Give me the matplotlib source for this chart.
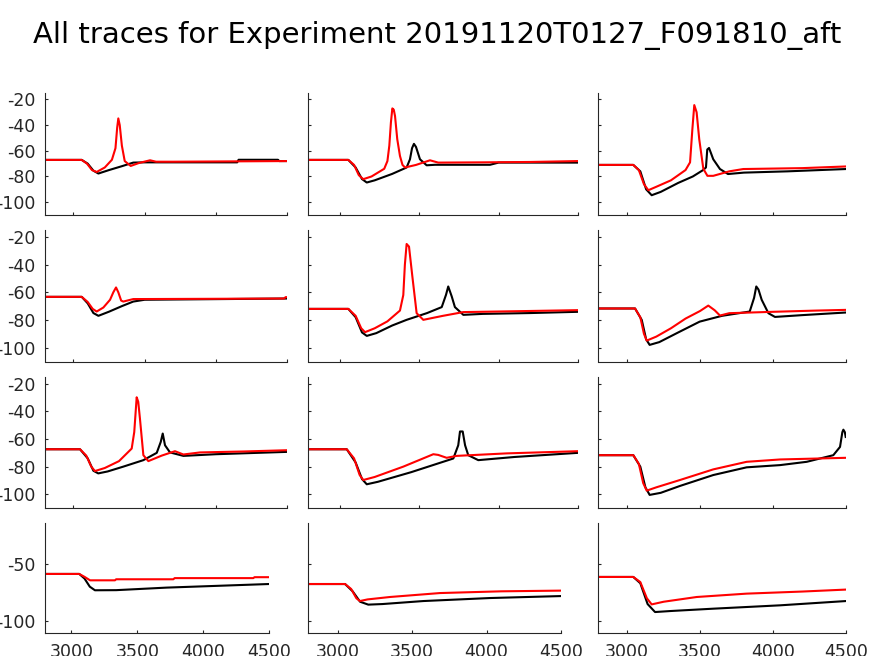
import matplotlib
matplotlib.use("Agg")
import matplotlib.pyplot as plt

matplotlib.rcParams['axes.unicode_minus'] = False  # plain hyphen like the original

title = "All traces for Experiment 20191120T0127_F091810_aft"

# one entry per panel, row by row (4 rows x 3 columns)
black_x = [
    [2800, 3058, 3100, 3140, 3175, 3250, 3340, 3420, 3500, 4040, 4150, 4160, 4437, 4445, 4500],
    [2800, 3054, 3100, 3140, 3170, 3220, 3330, 3421, 3442, 3455, 3467, 3480, 3505, 3547, 3600, 3946, 4000, 4500],
    [2800, 3042, 3090, 3130, 3168, 3230, 3350, 3450, 3522, 3540, 3549, 3561, 3575, 3590, 3636, 3691, 3800, 4100, 4500],
    [2800, 3058, 3100, 3140, 3175, 3250, 3340, 3420, 3500, 4500],
    [2800, 3054, 3100, 3140, 3170, 3230, 3330, 3421, 3550, 3642, 3669, 3683, 3705, 3725, 3778, 3900, 4200, 4500],
    [2800, 3054, 3100, 3130, 3154, 3220, 3350, 3497, 3650, 3840, 3870, 3885, 3900, 3922, 3968, 4013, 4200, 4500],
    [2800, 3046, 3100, 3140, 3174, 3240, 3350, 3491, 3585, 3613, 3627, 3643, 3678, 3772, 4000, 4500],
    [2800, 3044, 3100, 3140, 3170, 3240, 3450, 3715, 3746, 3757, 3774, 3789, 3809, 3872, 4100, 4500],
    [2800, 3042, 3090, 3125, 3154, 3230, 3362, 3590, 3819, 4048, 4231, 4413, 4459, 4475, 4482, 4492, 4498],
    [2800, 3060, 3100, 3140, 3179, 3340, 3723, 4100, 4500],
    [2800, 3049, 3100, 3150, 3205, 3300, 3575, 4023, 4500],
    [2800, 3042, 3090, 3140, 3191, 3300, 3590, 4048, 4500],
]
black_y = [
    [-67.1, -67.1, -70, -75.5, -77.7, -75, -72, -69.2, -69, -69, -69, -67, -67, -68, -68],
    [-67.1, -67.1, -73, -82, -84.7, -83, -78, -73, -66.6, -58, -54.6, -57, -66.6, -71.3, -70.9, -70.9, -69.2, -69.2],
    [-71, -71, -76, -90, -94.6, -92, -85, -80, -74.9, -73, -59, -57.8, -62, -66.6, -74.2, -78.1, -77, -76, -74.2],
    [-63.3, -63.3, -68, -75, -77, -74, -70, -66.7, -65.4, -64.5],
    [-72, -72, -78, -89, -91.5, -89.5, -84, -79.9, -75, -70.7, -61.8, -55.8, -63, -70.7, -76.3, -75.6, -75, -74.1],
    [-71.7, -71.7, -80, -94, -98, -96, -89, -81.2, -77, -73.9, -64, -55.8, -58, -65.4, -75.1, -77.8, -76.5, -74.6],
    [-67.4, -67.4, -74, -83, -84.9, -83.5, -80, -75.3, -70, -62.1, -56, -64.5, -69.7, -72.2, -71, -69.3],
    [-67.4, -67.4, -77, -89, -92.8, -91, -84, -74.1, -64.5, -54.5, -54.5, -64.5, -71.7, -75.3, -73, -70],
    [-71.7, -71.7, -80, -95, -100.5, -99, -94, -86.1, -80.5, -78.9, -76.5, -71.7, -65.7, -55, -53.2, -55, -58.5],
    [-59, -59, -63, -70, -73.1, -73, -70.8, -69.3, -67.7],
    [-67.7, -67.7, -74, -83, -85.5, -85, -82.4, -79.8, -78.1],
    [-61.6, -61.6, -67, -85, -91.9, -91, -89, -86.1, -82.4],
]

red_x = [
    [2800, 3058, 3095, 3130, 3163, 3220, 3270, 3295, 3307, 3315, 3325, 3340, 3360, 3402, 3460, 3538, 3580, 3700, 4500],
    [2800, 3054, 3090, 3120, 3148, 3200, 3280, 3300, 3312, 3322, 3331, 3340, 3348, 3362, 3379, 3395, 3411, 3480, 3568, 3620, 3900, 4200, 4500],
    [2800, 3042, 3080, 3115, 3145, 3200, 3300, 3400, 3431, 3447, 3460, 3476, 3494, 3522, 3550, 3590, 3700, 3796, 4200, 4500],
    [2800, 3058, 3100, 3135, 3163, 3210, 3257, 3280, 3299, 3315, 3335, 3350, 3420, 4000, 4480, 4490, 4500],
    [2800, 3054, 3100, 3135, 3159, 3220, 3300, 3379, 3400, 3410, 3421, 3436, 3457, 3484, 3526, 3650, 3778, 4200, 4500],
    [2800, 3054, 3090, 3115, 3134, 3200, 3300, 3400, 3500, 3556, 3600, 3636, 3700, 4000, 4300, 4500],
    [2800, 3046, 3090, 3125, 3151, 3220, 3320, 3409, 3427, 3444, 3455, 3467, 3491, 3526, 3620, 3713, 3772, 3889, 4200, 4500],
    [2800, 3044, 3090, 3125, 3148, 3220, 3400, 3589, 3620, 3673, 3736, 4050, 4500],
    [2800, 3042, 3080, 3110, 3134, 3200, 3362, 3590, 3819, 4048, 4500],
    [2800, 3060, 3100, 3142, 3331, 3340, 3774, 3784, 4381, 4390, 4500],
    [2800, 3049, 3090, 3125, 3149, 3200, 3351, 3687, 4100, 4500],
    [2800, 3042, 3090, 3135, 3168, 3250, 3477, 3819, 4200, 4500],
]
red_y = [
    [-67.1, -67.1, -70, -75, -76.5, -73, -67, -58, -42, -34.8, -40, -56, -68, -71.8, -69.5, -67.4, -68.5, -68.5, -68],
    [-67.1, -67.1, -71, -79, -82.1, -80, -74, -68, -56, -38, -27, -28, -33, -51, -64, -71, -73, -71, -67.4, -69.2, -69, -68.7, -68],
    [-71, -71, -75, -86, -90.7, -88, -83, -75, -69, -43, -24.4, -30, -51, -74, -79.5, -79.5, -76, -74.2, -73.5, -72.2],
    [-63.3, -63.3, -67, -72, -73.9, -71, -65.4, -60, -56.5, -60, -66, -66.7, -64.9, -64.7, -64.5, -63.5, -63.5],
    [-72, -72, -77, -86, -88.8, -86, -81, -73.2, -62, -40, -25.1, -27, -48.5, -75.1, -79.9, -77, -74.3, -73.5, -72.9],
    [-71.7, -71.7, -78, -90, -94.9, -92, -86, -79, -73.5, -69.6, -73, -76.8, -75.1, -74.1, -73.2, -72.7],
    [-67.4, -67.4, -72, -80, -83.2, -81, -76, -66.9, -54.9, -29.7, -33, -45.2, -71.7, -76, -72, -68.8, -71.2, -69.7, -69, -68.1],
    [-67.4, -67.4, -74, -86, -89.7, -87.5, -80, -71, -71.5, -73.6, -72.2, -70.4, -68.8],
    [-71.7, -71.7, -78, -92, -97.4, -95, -89.7, -82, -76.5, -74.8, -73.6],
    [-59, -59, -61.5, -64.5, -64.5, -63.6, -63.6, -62.6, -62.6, -61.8, -61.8],
    [-67.7, -67.7, -72, -80, -82.4, -81, -78.9, -75.5, -74, -73.4],
    [-61.6, -61.6, -66, -80, -85.3, -83, -78.9, -76, -74.2, -72.5],
]

x_ticks = [3000, 3500, 4000, 4500]
y_ticks_top = [-100, -80, -60, -40, -20]
y_ticks_bottom = [-100, -50]

# panel boxes in pixels (left, right), (top, bottom)
W, H = 874, 656
cols_upper = [(45, 287), (308, 578), (598, 846)]
cols_lower = [(45, 269), (308, 561), (598, 846)]
rows = [(93, 215), (230, 361.5), (377, 508), (523, 633)]

fig = plt.figure(figsize=(W / 100, H / 100), dpi=100)
fig.text(0.5, 1 - 35 / H, title, ha="center", va="center", fontsize=21, color="black")

grey = "#262626"
for r in range(4):
    for c in range(3):
        i = r * 3 + c
        left, right = (cols_lower if r == 3 else cols_upper)[c]
        top, bottom = rows[r]
        ax = fig.add_axes([left / W, 1 - bottom / H, (right - left) / W, (bottom - top) / H])
        ax.plot(black_x[i], black_y[i], color="black", lw=1.5)
        ax.plot(red_x[i], red_y[i], color="red", lw=1.5)
        ax.set_xlim(2800, 4500)
        ax.set_ylim(-110, -15)
        ax.set_xticks(x_ticks)
        ax.set_yticks(y_ticks_bottom if r == 3 else y_ticks_top)
        for s in ["top", "right"]:
            ax.spines[s].set_visible(False)
        for s in ["left", "bottom"]:
            ax.spines[s].set_color(grey)
            ax.spines[s].set_linewidth(0.8)
        ax.tick_params(direction="in", length=2.5, width=0.8, colors=grey,
                       labelsize=12.5, labelcolor=grey, pad=7)
        if r != 3:
            ax.set_xticklabels([])
        if c != 0:
            ax.set_yticklabels([])

fig.savefig("out.png", dpi=100)
